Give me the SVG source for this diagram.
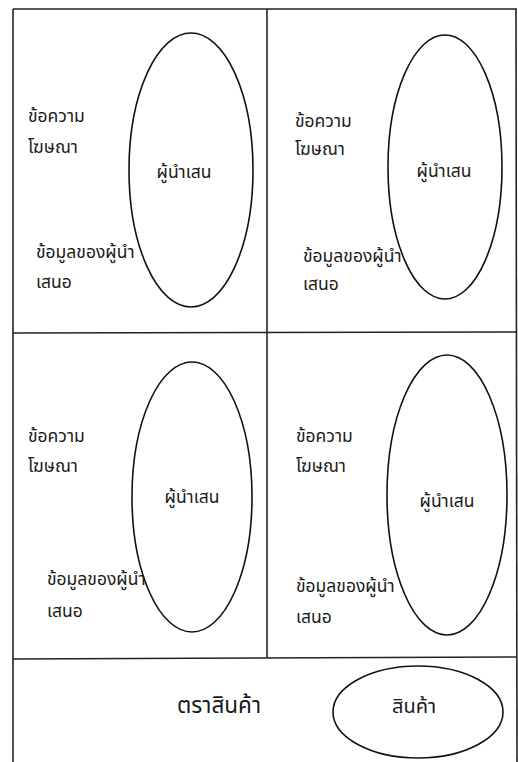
<svg xmlns="http://www.w3.org/2000/svg" width="518" height="762" viewBox="0 0 518 762">
<style>
.ln{stroke:#222;stroke-width:1.6;fill:none}
.el{stroke:#111;stroke-width:1.6;fill:none}
.t{font-family:"Noto Sans Thai","Noto Sans","DejaVu Sans",sans-serif;font-size:17.5px;fill:#1a1a1a}
.c{text-anchor:middle}
.b{font-size:22.5px}
</style>
<rect width="518" height="762" fill="#fff"/>
<g id="frame">
<line class="ln" x1="13" y1="9" x2="517" y2="9"/>
<line class="ln" x1="13" y1="9" x2="13" y2="762"/>
<line class="ln" x1="516" y1="9" x2="517" y2="762"/>
<line class="ln" x1="267" y1="9" x2="267" y2="658"/>
<line class="ln" x1="13" y1="333" x2="517" y2="332"/>
<line class="ln" x1="13" y1="659" x2="517" y2="657"/>
</g>
<g id="q1">
<ellipse class="el" cx="191" cy="170" rx="62" ry="137"/>
<text class="t" x="28" y="122">ข้อความ</text>
<text class="t" x="28" y="153">โฆษณา</text>
<text class="t c" x="184" y="178">ผู้นำเสน</text>
<text class="t" x="36" y="258">ข้อมูลของผู้นำ</text>
<text class="t" x="36" y="288">เสนอ</text>
</g>
<g id="q2">
<ellipse class="el" cx="445" cy="167" rx="57" ry="132"/>
<text class="t" x="295" y="127">ข้อความ</text>
<text class="t" x="295" y="155">โฆษณา</text>
<text class="t c" x="444" y="177">ผู้นำเสน</text>
<text class="t" x="303" y="262">ข้อมูลของผู้นำ</text>
<text class="t" x="303" y="290">เสนอ</text>
</g>
<g id="q3">
<ellipse class="el" cx="192" cy="497" rx="60" ry="135"/>
<text class="t" x="28" y="442">ข้อความ</text>
<text class="t" x="28" y="472">โฆษณา</text>
<text class="t c" x="192" y="503">ผู้นำเสน</text>
<text class="t" x="47" y="585">ข้อมูลของผู้นำ</text>
<text class="t" x="47" y="617">เสนอ</text>
</g>
<g id="q4">
<ellipse class="el" cx="447" cy="495" rx="60" ry="140"/>
<text class="t" x="296" y="442">ข้อความ</text>
<text class="t" x="296" y="472">โฆษณา</text>
<text class="t c" x="447" y="507">ผู้นำเสน</text>
<text class="t" x="296" y="592">ข้อมูลของผู้นำ</text>
<text class="t" x="296" y="623">เสนอ</text>
</g>
<g id="brand">
<text class="t b" x="177" y="713">ตราสินค้า</text>
<ellipse class="el" cx="418" cy="712" rx="85" ry="46"/>
<text class="t c" x="414" y="713" style="font-size:20px">สินค้า</text>
</g>
</svg>
